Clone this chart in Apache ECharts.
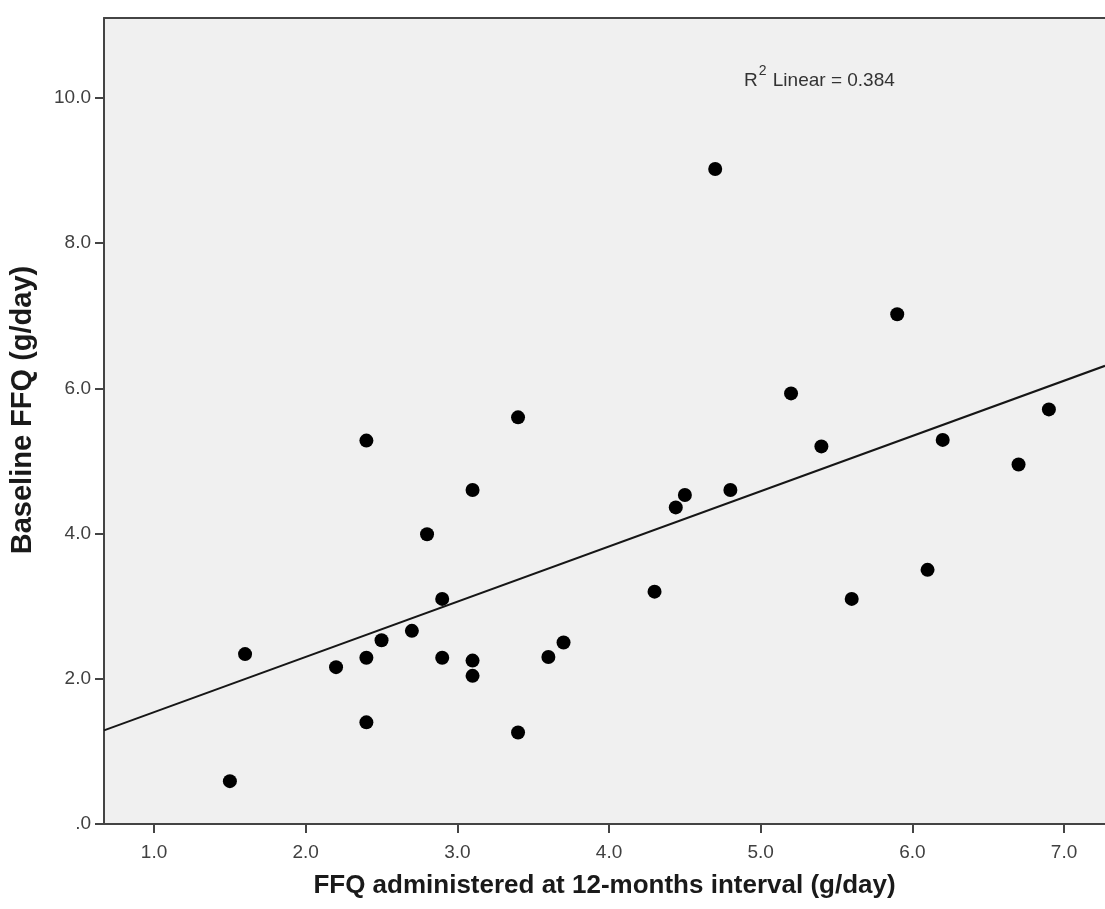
<!DOCTYPE html>
<html>
<head>
<meta charset="utf-8">
<script src="https://cdn.jsdelivr.net/npm/echarts@6/dist/echarts.min.js"></script>
<style>
html,body{margin:0;padding:0;background:#fff;}
#chart{width:1105px;height:909px;}
</style>
</head>
<body>
<div id="chart"></div>
<script>
const xValues = [1.5, 1.6, 2.2, 2.4, 2.4, 2.4, 2.5, 2.7, 2.8, 2.9, 2.9, 3.1, 3.1, 3.1, 3.4, 3.4, 3.6, 3.7, 4.3, 4.44, 4.5, 4.7, 4.8, 5.2, 5.4, 5.6, 5.9, 6.1, 6.2, 6.7, 6.9];
const yValues = [0.59, 2.34, 2.16, 5.28, 2.29, 1.40, 2.53, 2.66, 3.99, 3.10, 2.29, 4.60, 2.25, 2.04, 5.60, 1.26, 2.30, 2.50, 3.20, 4.36, 4.53, 9.02, 4.60, 5.93, 5.20, 3.10, 7.02, 3.50, 5.29, 4.95, 5.71];
// Fit line endpoints (at the plot's left and right edges)
const fitX = [0.67, 7.27];
const fitY = [1.29, 6.31];
const xTicks = [1, 2, 3, 4, 5, 6, 7];
const xTickLabels = ['1.0', '2.0', '3.0', '4.0', '5.0', '6.0', '7.0'];
const yTicks = [0, 2, 4, 6, 8, 10];
const yTickLabels = ['.0', '2.0', '4.0', '6.0', '8.0', '10.0'];
const xTitle = 'FFQ administered at 12-months interval (g/day)';
const yTitle = 'Baseline FFQ (g/day)';
const r2Text = '0.384';

const points = xValues.map((x, i) => [x, yValues[i]]);
const fitLine = fitX.map((x, i) => [x, fitY[i]]);

const chart = echarts.init(document.getElementById('chart'), null, {renderer: 'canvas'});
const axisColor = '#444444';
const font = '"Liberation Sans", Arial, sans-serif';
chart.setOption({
  animation: false,
  backgroundColor: '#ffffff',
  grid: {left: 104, right: 0, top: 18, bottom: 85, show: true, backgroundColor: '#f0f0f0', borderWidth: 0},
  xAxis: [{
    type: 'value', min: fitX[0], max: fitX[1], position: 'bottom',
    splitLine: {show: false},
    axisLine: {show: true, onZero: false, lineStyle: {color: axisColor, width: 2}},
    axisTick: {show: true, length: 9, customValues: xTicks, lineStyle: {color: axisColor, width: 2}},
    axisLabel: {customValues: xTicks, margin: 19, color: '#404040', fontSize: 19, fontFamily: font,
      formatter: v => xTickLabels[xTicks.indexOf(Math.round(v))] || ''},
    name: xTitle, nameLocation: 'middle', nameGap: 49,
    nameTextStyle: {fontSize: 26, fontWeight: 'bold', color: '#1a1a1a', fontFamily: font}
  }, {
    type: 'value', min: fitX[0], max: fitX[1], position: 'top',
    splitLine: {show: false},
    axisLine: {show: true, onZero: false, lineStyle: {color: axisColor, width: 2}},
    axisTick: {show: false}, axisLabel: {show: false}
  }],
  yAxis: {
    type: 'value', min: 0, max: 11.1,
    splitLine: {show: false},
    axisLine: {show: true, onZero: false, lineStyle: {color: axisColor, width: 2}},
    axisTick: {show: true, length: 9, customValues: yTicks, lineStyle: {color: axisColor, width: 2}},
    axisLabel: {customValues: yTicks, margin: 13, color: '#404040', fontSize: 19, fontFamily: font,
      formatter: v => yTickLabels[yTicks.indexOf(Math.round(v))] || ''},
    name: yTitle, nameLocation: 'middle', nameGap: 67,
    nameTextStyle: {fontSize: 29, fontWeight: 'bold', color: '#1a1a1a', fontFamily: font, padding: [0, 0, 0, 22]}
  },
  graphic: [{
    type: 'text', left: 744, top: 64,
    style: {
      text: '{r|R}{s|2}{r| Linear = ' + r2Text + '}',
      rich: {
        r: {fontSize: 19, fontFamily: font, fill: '#333', verticalAlign: 'bottom', lineHeight: 26},
        s: {fontSize: 14, fontFamily: font, fill: '#333', verticalAlign: 'top', lineHeight: 26, padding: [0, 1, 10, 1]}
      }
    }
  }],
  series: [{
    type: 'line', data: fitLine, xAxisIndex: 0, showSymbol: false, symbol: 'none',
    lineStyle: {color: '#161616', width: 2}, silent: true, z: 2
  }, {
    type: 'scatter', data: points, xAxisIndex: 0, symbol: 'circle', symbolSize: 14,
    itemStyle: {color: '#000000', opacity: 1}, z: 3
  }]
});
</script>
</body>
</html>
